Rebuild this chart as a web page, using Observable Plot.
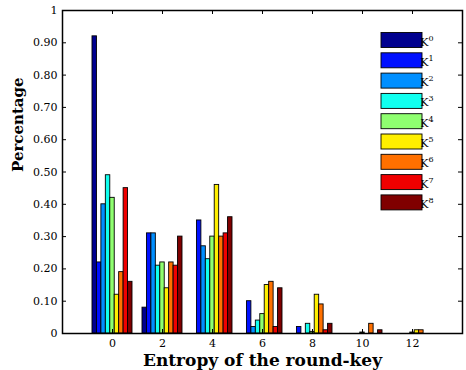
<!DOCTYPE html>
<html><head><meta charset="utf-8">
<script src="https://cdn.jsdelivr.net/npm/d3@7"></script>
<script src="https://cdn.jsdelivr.net/npm/@observablehq/plot@0.6"></script>
<style>body{margin:0;background:#fff}</style>
</head><body><div id="chart"></div>
<script>
const entropy = [0, 2, 4, 6, 8, 10, 12];
const seriesLabels = ["0", "1", "2", "3", "4", "5", "6", "7", "8"];
const K0 = [0.92, 0.08, 0, 0, 0, 0, 0];
const K1 = [0.22, 0.31, 0.35, 0.10, 0.02, 0, 0];
const K2 = [0.40, 0.31, 0.27, 0.02, 0, 0, 0];
const K3 = [0.49, 0.21, 0.23, 0.04, 0.03, 0, 0];
const K4 = [0.42, 0.22, 0.30, 0.06, 0.005, 0.003, 0.003];
const K5 = [0.12, 0.14, 0.46, 0.15, 0.12, 0, 0.01];
const K6 = [0.19, 0.22, 0.30, 0.16, 0.09, 0.03, 0.01];
const K7 = [0.45, 0.21, 0.31, 0.02, 0.01, 0, 0];
const K8 = [0.16, 0.30, 0.36, 0.14, 0.03, 0.01, 0];
const colors = ["#00008f", "#0010ff", "#008fff", "#10ffef", "#8fff70", "#ffef00", "#ff7000", "#ef0000", "#800000"];
const yTicks = [0, 0.1, 0.2, 0.3, 0.4, 0.5, 0.6, 0.7, 0.8, 0.9, 1];
const yTickLabels = ["0", "0.10", "0.20", "0.30", "0.40", "0.50", "0.60", "0.70", "0.80", "0.90", "1"];
const xTicks = [0, 2, 4, 6, 8, 10, 12];

const series = [K0, K1, K2, K3, K4, K5, K6, K7, K8];
const groupWidth = 1.6, nS = series.length, barW = groupWidth / nS;
const rows = [];
series.forEach((vals, s) => vals.forEach((v, i) => {
  if (v > 0) rows.push({x1: entropy[i] - groupWidth / 2 + s * barW, x2: entropy[i] - groupWidth / 2 + (s + 1) * barW, y: v, s});
}));

const W = 466, H = 370, ml = 62, mr = 4, mt = 10, mb = 37;
const fw = W - ml - mr, fh = H - mt - mb;
const serif = "'DejaVu Serif', serif";
const plot = Plot.plot({
  width: W, height: H, marginLeft: ml, marginRight: mr, marginTop: mt, marginBottom: mb,
  style: {fontFamily: serif, fontSize: "11px", background: "#fff", color: "#000"},
  x: {domain: [-2, 14]},
  y: {domain: [0, 1]},
  marks: [
    Plot.rect(rows, {x1: "x1", x2: "x2", y1: 0, y2: "y", fill: d => colors[d.s], stroke: "#000", strokeWidth: 0.9}),
    Plot.tickY(yTicks, {y: d => d, insetRight: fw - 4, stroke: "#000"}),
    Plot.tickY(yTicks, {y: d => d, insetLeft: fw - 4, stroke: "#000"}),
    Plot.tickX(xTicks, {x: d => d, insetTop: fh - 4, stroke: "#000"}),
    Plot.tickX(xTicks, {x: d => d, insetBottom: fh - 4, stroke: "#000"}),
    Plot.axisY(yTicks, {tickSize: 0, tickPadding: 5, tickFormat: d => yTickLabels[Math.round(d * 10)], label: null, fontSize: 11, fontFamily: serif, fill: "#000"}),
    Plot.axisX(xTicks, {tickSize: 0, tickPadding: 6, label: null, fontSize: 11, fontFamily: serif, fill: "#000"}),
    Plot.frame({stroke: "#000", strokeWidth: 1.5}),
    Plot.text(["Percentage"], {frameAnchor: "left", dx: -44, rotate: -90, fontWeight: "bold", fontSize: 15, fontFamily: serif, fill: "#000"}),
    Plot.text(["Entropy of the round-key"], {frameAnchor: "bottom", dy: 27, lineAnchor: "middle", fontWeight: "bold", fontSize: 17, fontFamily: serif, fill: "#000"})
  ]
});
document.getElementById("chart").appendChild(plot);

const svg = d3.select(plot);
const lg = svg.append("g").attr("font-family", serif);
seriesLabels.forEach((lab, i) => {
  const y = 32.5 + i * 20.3;
  lg.append("rect").attr("x", 381).attr("y", y).attr("width", 41).attr("height", 15)
    .attr("fill", colors[i]).attr("stroke", "#000").attr("stroke-width", 0.9);
  const t = lg.append("text").attr("x", 427).attr("y", y + 13).attr("font-size", 11).attr("fill", "#000");
  t.append("tspan").text("K");
  t.append("tspan").attr("font-size", 8).attr("dy", -5).text(lab);
});
</script>
</body></html>
